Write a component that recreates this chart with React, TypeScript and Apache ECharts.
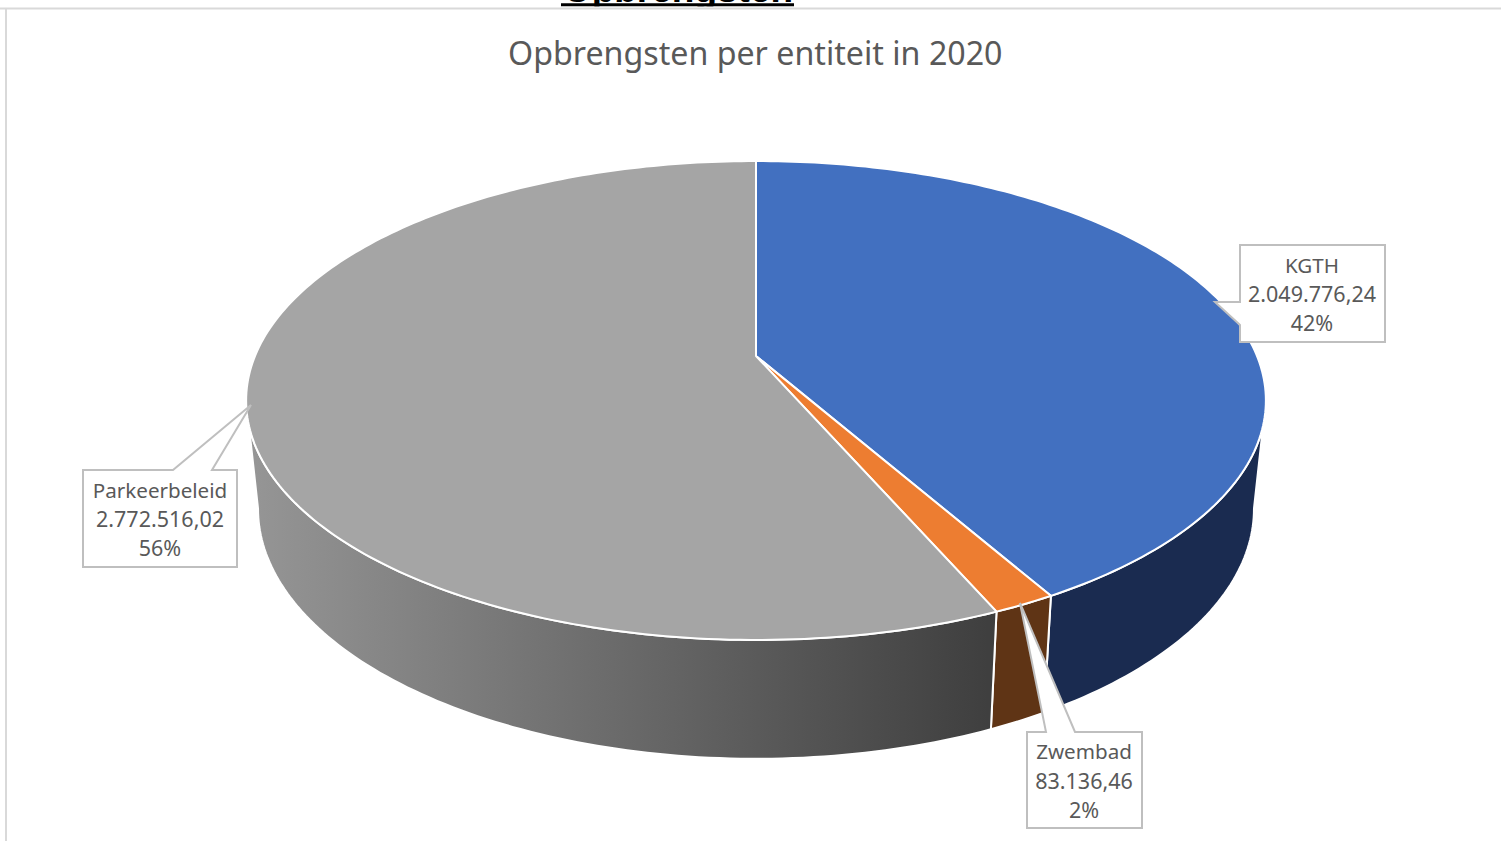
import React, { useEffect, useRef } from "react";
import * as echarts from "echarts";

const entities = ["KGTH", "Zwembad", "Parkeerbeleid"];
const revenues = [2049776.24, 83136.46, 2772516.02];
const valueTexts = ["2.049.776,24", "83.136,46", "2.772.516,02"];
const percentTexts = ["42%", "2%", "56%"];
const topColors = ["#4270c0", "#ed7d31", "#a5a5a5"];
const title = "Opbrengsten per entiteit in 2020";
const clippedHeading = "Opbrengsten";

const total = revenues.reduce((a, b) => a + b, 0);
const K = 0.1858;
// Fractions of the turn where the pie's right and left silhouettes lie
const FRONT_START = 0.2797;
const FRONT_END = 0.7203;

function rimPoint(t: number, cx: number, cy: number, b: number, a: number) {
  const th = t * Math.PI * 2;
  const u = Math.sin(th);
  const v = -Math.cos(th);
  const d = 1 - K * v;
  return [cx + (b * u) / d, cy + (a * v) / d];
}
const topRim = (t: number) => rimPoint(t, 756, 356, 501, 231.2);
const bottomRim = (t: number) => rimPoint(t, 756, 462.3, 489.3, 241.4);

function arc(f: (t: number) => number[], t0: number, t1: number) {
  const n = Math.max(4, Math.ceil((t1 - t0) * 360));
  const pts: number[][] = [];
  for (let i = 0; i <= n; i++) pts.push(f(t0 + ((t1 - t0) * i) / n));
  return pts;
}

function span(i: number) {
  let s = 0;
  for (let j = 0; j < i; j++) s += revenues[j];
  return [s / total, (s + revenues[i]) / total];
}

const wallFill = (i: number): any =>
  i === 0
    ? "#1a2b50"
    : i === 1
      ? "#5f3415"
      : new echarts.graphic.LinearGradient(0, 0, 1, 0, [
          { offset: 0, color: "#969696" },
          { offset: 1, color: "#3e3e3e" },
        ]);

function callout(points: number[][], tx: number, ty: number, i: number) {
  return [
    {
      type: "polygon",
      shape: { points },
      style: { fill: "#ffffff", stroke: "#bfbfbf", lineWidth: 2 },
      z: 10,
    },
    ...[entities[i], valueTexts[i], percentTexts[i]].map((t, k) => ({
      type: "text",
      x: tx,
      y: ty + k * 29,
      z: 11,
      style: {
        text: t,
        fill: "#595959",
        font: `${k === 0 ? 20.6 : 21.5}px "Noto Sans"`,
        textAlign: "center",
        textVerticalAlign: "middle",
      },
    })),
  ];
}

export default function App() {
  const ref = useRef<HTMLDivElement>(null);
  useEffect(() => {
    const chart = echarts.init(ref.current!, null, { renderer: "svg" });
    chart.setOption({
      animation: false,
      backgroundColor: "#ffffff",
      title: {
        text: title,
        left: 503,
        top: 31,
        textStyle: { fontFamily: "Noto Sans", fontSize: 32.2, fontWeight: "normal", color: "#595959" },
      },
      graphic: [
        {
          type: "text",
          x: 678,
          y: 7.5,
          style: {
            text: clippedHeading,
            fill: "#000000",
            font: 'bold 37px "Liberation Sans"',
            textAlign: "center",
            textVerticalAlign: "bottom",
          },
          z: 1,
        },
        { type: "rect", shape: { x: 561, y: 3.3, width: 233, height: 3.3 }, style: { fill: "#000000" }, z: 1 },
        { type: "rect", shape: { x: 540, y: 6.6, width: 280, height: 10 }, style: { fill: "#ffffff" }, z: 1 },
        { type: "rect", shape: { x: 0, y: 7.5, width: 1501, height: 2 }, style: { fill: "#d9d9d9" }, z: 2 },
        { type: "rect", shape: { x: 5, y: 8, width: 2, height: 833 }, style: { fill: "#d9d9d9" }, z: 2 },
        ...callout(
          [[1240, 245], [1385, 245], [1385, 342], [1240, 342], [1240, 325], [1215, 302], [1240, 302]],
          1312, 264.5, 0
        ),
        ...callout(
          [[1027, 732], [1046, 732], [1020, 603], [1075, 732], [1142, 732], [1142, 828], [1027, 828]],
          1084, 751, 1
        ),
        ...callout(
          [[83, 470], [173, 470], [251, 405], [212, 470], [237, 470], [237, 567], [83, 567]],
          160, 489.5, 2
        ),
      ],
      series: [
        {
          type: "custom",
          coordinateSystem: "none",
          silent: true,
          data: revenues.map((v, i) => ({ name: entities[i], value: [v, i] })),
          renderItem: (_p: any, api: any) => {
            const i = api.value(1);
            const [s0, s1] = span(i);
            const t0 = Math.max(s0, FRONT_START);
            const t1 = Math.min(s1, FRONT_END);
            const points = [...arc(topRim, t0, t1), ...arc(bottomRim, t0, t1).reverse()];
            return {
              type: "polygon",
              shape: { points },
              style: { fill: wallFill(i), stroke: "#ffffff", lineWidth: 2 },
            };
          },
          z: 3,
        },
        {
          type: "custom",
          coordinateSystem: "none",
          silent: true,
          data: revenues.map((v, i) => ({ name: entities[i], value: [v, i] })),
          renderItem: (_p: any, api: any) => {
            const i = api.value(1);
            const [t0, t1] = span(i);
            const points = [[756, 356], ...arc(topRim, t0, t1)];
            return {
              type: "polygon",
              shape: { points },
              style: { fill: topColors[i], stroke: "#ffffff", lineWidth: 2, lineJoin: "round" },
            };
          },
          z: 4,
        },
      ],
    });
    return () => chart.dispose();
  }, []);
  return <div ref={ref} style={{ position: "absolute", left: 0, top: 0, width: 1501, height: 841 }} />;
}
